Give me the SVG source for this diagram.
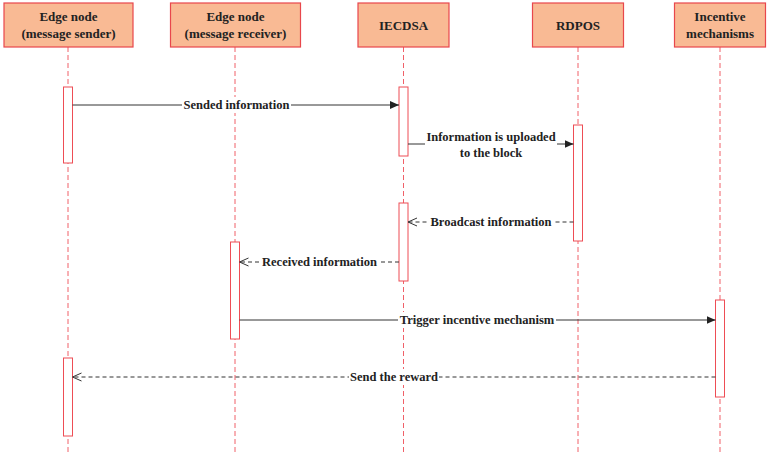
<svg xmlns="http://www.w3.org/2000/svg" width="771" height="452" viewBox="0 0 771 452">
<style>
.hdr{fill:#F9BA94;stroke:#E8474C;stroke-width:1.2}
.ht{font-family:"Liberation Serif",serif;font-weight:bold;font-size:13px;fill:#222;text-anchor:middle}
.life{stroke:#F06068;stroke-width:1;stroke-dasharray:5,3;fill:none}
.act{fill:#fff;stroke:#EE4D55;stroke-width:1}
.msg{stroke:#333;stroke-width:1;fill:none}
.dash{stroke-dasharray:4,3}
.lt{font-family:"Liberation Serif",serif;font-weight:bold;font-size:12.5px;fill:#222;text-anchor:middle}
.bg{fill:#fff}
</style>
<defs>
<marker id="fill" markerWidth="10" markerHeight="10" refX="9" refY="5" orient="auto" markerUnits="userSpaceOnUse">
<path d="M0,1 L9,5 L0,9 Z" fill="#222"/>
</marker>
<marker id="open" markerWidth="10" markerHeight="10" refX="9" refY="5" orient="auto" markerUnits="userSpaceOnUse">
<path d="M0,1 L9,5 L0,9" fill="none" stroke="#333" stroke-width="1"/>
</marker>
</defs>
<rect width="771" height="452" fill="#fff"/>
<g id="lifelines">
<line class="life" x1="68" y1="47" x2="68" y2="452"/>
<line class="life" x1="235" y1="47" x2="235" y2="452"/>
<line class="life" x1="403.5" y1="47" x2="403.5" y2="452"/>
<line class="life" x1="578" y1="47" x2="578" y2="452"/>
<line class="life" x1="720" y1="47" x2="720" y2="452"/>
</g>
<g id="node-sender">
<rect class="hdr" x="4" y="3" width="129" height="44"/>
<text class="ht" x="68.5" y="21">Edge node</text>
<text class="ht" x="68.5" y="38">(message sender)</text>
</g>
<g id="node-receiver">
<rect class="hdr" x="170.5" y="3" width="130" height="44"/>
<text class="ht" x="235.5" y="21">Edge node</text>
<text class="ht" x="235.5" y="38">(message receiver)</text>
</g>
<g id="node-iecdsa">
<rect class="hdr" x="358" y="3" width="91" height="44"/>
<text class="ht" x="403.5" y="30">IECDSA</text>
</g>
<g id="node-rdpos">
<rect class="hdr" x="532.5" y="3" width="91" height="44"/>
<text class="ht" x="578" y="30">RDPOS</text>
</g>
<g id="node-incentive">
<rect class="hdr" x="674.5" y="3" width="91" height="44"/>
<text class="ht" x="720" y="21">Incentive</text>
<text class="ht" x="720" y="38">mechanisms</text>
</g>
<g id="activations">
<rect class="act" x="63.5" y="87" width="9" height="76"/>
<rect class="act" x="399" y="87" width="9" height="69"/>
<rect class="act" x="573.5" y="125" width="9" height="116"/>
<rect class="act" x="399" y="203" width="9" height="78"/>
<rect class="act" x="230.5" y="242" width="9" height="97"/>
<rect class="act" x="715.5" y="300" width="9" height="97"/>
<rect class="act" x="63.5" y="358" width="9" height="78"/>
</g>
<g id="connectors">
<line class="msg" x1="72.5" y1="105" x2="399" y2="105" marker-end="url(#fill)"/>
<rect class="bg" x="182" y="97" width="109" height="16"/>
<text class="lt" x="236.5" y="109">Sended information</text>

<line class="msg" x1="408" y1="144" x2="573.5" y2="144" marker-end="url(#fill)"/>
<rect class="bg" x="425" y="128" width="132" height="32"/>
<text class="lt" x="491" y="141">Information is uploaded</text>
<text class="lt" x="491" y="157">to the block</text>

<line class="msg dash" x1="573.5" y1="222" x2="408" y2="222" marker-end="url(#open)"/>
<rect class="bg" x="429" y="214" width="124" height="16"/>
<text class="lt" x="491" y="226">Broadcast information</text>

<line class="msg dash" x1="399" y1="262" x2="239.5" y2="262" marker-end="url(#open)"/>
<rect class="bg" x="261" y="254" width="117" height="16"/>
<text class="lt" x="319.5" y="266">Received information</text>

<line class="msg" x1="239.5" y1="320" x2="715.5" y2="320" marker-end="url(#fill)"/>
<rect class="bg" x="398" y="312" width="158" height="16"/>
<text class="lt" x="477" y="324">Trigger incentive mechanism</text>

<line class="msg dash" x1="715.5" y1="377" x2="72.5" y2="377" marker-end="url(#open)"/>
<rect class="bg" x="349" y="369" width="90" height="16"/>
<text class="lt" x="394" y="381">Send the reward</text>
</g>
</svg>
